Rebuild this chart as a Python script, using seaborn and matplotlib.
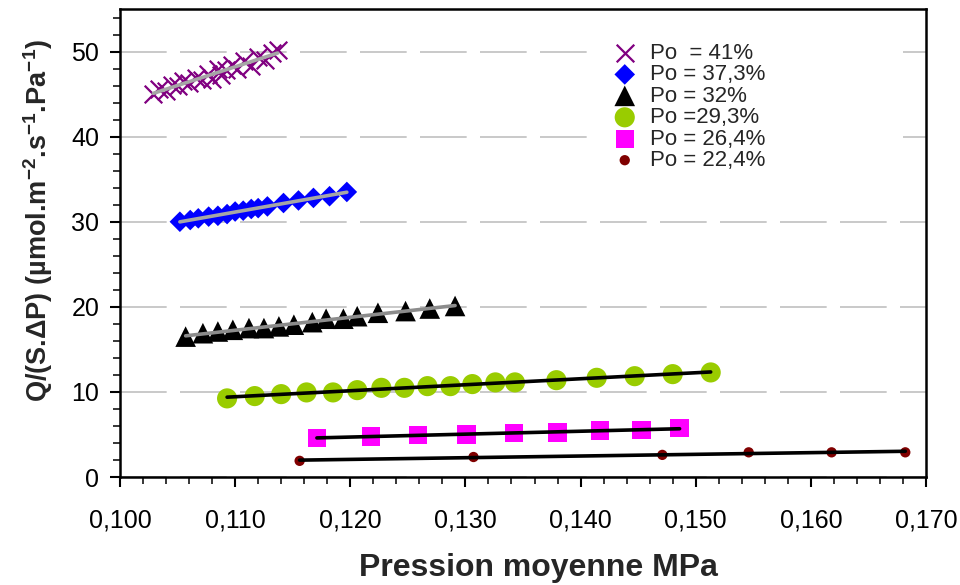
import numpy as np
import seaborn as sns
import matplotlib.pyplot as plt
import matplotlib.patches as mpatches
from matplotlib.ticker import MultipleLocator

# Po = 41 %
x_41 = [0.1029, 0.1034, 0.1040, 0.1045, 0.1050, 0.1055, 0.1060, 0.1066, 0.1071, 0.1076, 0.1080,
        0.1085, 0.1088, 0.1092, 0.1097, 0.1102, 0.1108, 0.1114, 0.1120, 0.1126, 0.1132, 0.1137]
y_41 = [45.0, 45.6, 45.4, 46.1, 45.9, 46.5, 46.3, 46.9, 46.6, 47.4, 46.8,
        47.9, 47.2, 47.8, 48.4, 47.9, 48.9, 48.3, 49.4, 49.0, 49.8, 50.2]
# Po = 37,3 %
x_373 = [0.1052, 0.1061, 0.1068, 0.1077, 0.1085, 0.1093, 0.1100, 0.1107,
         0.1114, 0.1120, 0.1128, 0.1142, 0.1155, 0.1168, 0.1182, 0.1197]
y_373 = [30.0, 30.2, 30.4, 30.6, 30.7, 30.9, 31.2, 31.3,
         31.5, 31.6, 31.8, 32.2, 32.5, 32.8, 33.0, 33.5]
# Po = 32 %
x_32 = [0.1057, 0.1072, 0.1085, 0.1098, 0.1112, 0.1125, 0.1138, 0.1151,
        0.1167, 0.1179, 0.1194, 0.1206, 0.1224, 0.1248, 0.1269, 0.1291]
y_32 = [16.5, 16.9, 17.1, 17.3, 17.5, 17.5, 17.7, 17.9,
        18.2, 18.6, 18.6, 18.9, 19.3, 19.5, 19.8, 20.1]
# Po = 29,3 %
x_293 = [0.1093, 0.1117, 0.1140, 0.1162, 0.1185, 0.1206, 0.1227, 0.1247, 0.1267,
         0.1287, 0.1306, 0.1326, 0.1343, 0.1379, 0.1414, 0.1447, 0.1480, 0.1513]
y_293 = [9.24, 9.51, 9.74, 9.94, 9.94, 10.21, 10.48, 10.48, 10.68,
         10.68, 10.92, 11.12, 11.12, 11.38, 11.66, 11.85, 12.09, 12.29]
# Po = 26,4 %
x_264 = [0.1171, 0.1218, 0.1259, 0.1301, 0.1342, 0.1380, 0.1417, 0.1453, 0.1486]
y_264 = [4.6, 4.75, 4.95, 5.0, 5.2, 5.25, 5.45, 5.5, 5.75]
# Po = 22,4 %
x_224 = [0.1156, 0.1307, 0.1471, 0.1546, 0.1618, 0.1682]
y_224 = [1.9, 2.35, 2.6, 2.9, 2.9, 2.9]

labels = ['Po  = 41%', 'Po = 37,3%', 'Po = 32%', 'Po =29,3%', 'Po = 26,4%', 'Po = 22,4%']

x_ticks = [0.100, 0.110, 0.120, 0.130, 0.140, 0.150, 0.160, 0.170]
x_tick_labels = ['0,100', '0,110', '0,120', '0,130', '0,140', '0,150', '0,160', '0,170']
y_ticks = [0, 10, 20, 30, 40, 50]

sns.set_style('white')
plt.rcParams['font.family'] = ['Liberation Sans', 'DejaVu Sans']
plt.rcParams['mathtext.fontset'] = 'custom'
plt.rcParams['mathtext.rm'] = 'Liberation Sans'
plt.rcParams['mathtext.bf'] = 'Liberation Sans:bold'

fig, ax = plt.subplots(figsize=(9.6, 5.85), dpi=100)
fig.subplots_adjust(left=0.125, right=0.9646, top=0.9846, bottom=0.1846)

series = [
    (x_41, y_41, 'x', '#800080', 160, '#a6a6a6'),
    (x_373, y_373, 'D', '#0000ff', 110, '#a6a6a6'),
    (x_32, y_32, '^', '#000000', 220, '#8c8c8c'),
    (x_293, y_293, 'o', '#99cc00', 210, '#000000'),
    (x_264, y_264, 's', '#ff00ff', 175, '#000000'),
    (x_224, y_224, 'o', '#800000', 55, '#000000'),
]

handles = []
for (xs, ys, mk, col, sz, lcol), lab in zip(series, labels):
    if mk == 'x':
        sns.scatterplot(x=xs, y=ys, marker=mk, color=col, s=sz, linewidth=1.6,
                        ax=ax, zorder=3)
    else:
        sns.scatterplot(x=xs, y=ys, marker=mk, color=col, s=sz, edgecolor='none',
                        ax=ax, zorder=3)
    handles.append(ax.collections[-1])
    # trend line
    sns.regplot(x=np.array(xs), y=np.array(ys), scatter=False, ci=None, truncate=True,
                color=lcol, line_kws={'lw': 2.6, 'zorder': 4}, ax=ax)

ax.set_xlim(0.100, 0.170)
ax.set_ylim(0, 55)
ax.set_xticks(x_ticks, x_tick_labels)
ax.set_yticks(y_ticks)
ax.xaxis.set_minor_locator(MultipleLocator(0.002))
ax.yaxis.set_minor_locator(MultipleLocator(2))
ax.tick_params(axis='both', which='major', direction='out', length=7, width=1.5,
               labelsize=18, colors='black')
ax.tick_params(axis='x', which='major', pad=16)
ax.tick_params(axis='y', which='major', pad=8)
ax.tick_params(axis='both', which='minor', direction='out', length=5, width=1.3)
ax.tick_params(axis='x', which='both', bottom=True)
ax.tick_params(axis='y', which='both', left=True)

for sp in ax.spines.values():
    sp.set_color('black')
    sp.set_linewidth(1.8)

    # Add Grid
ax.grid(axis='y', color='#c0c0c0', linestyle=(0, (28, 8)), linewidth=1.2, zorder=0)
ax.set_axisbelow(True)

ax.set_xlabel('Pression moyenne MPa', fontsize=23, fontweight='bold')
ax.xaxis.set_label_coords(0.519, -0.162)
ax.set_ylabel(r'Q/(S.ΔP) (µmol.m$^{\mathbf{-2}}$.s$^{\mathbf{-1}}$.Pa$^{\mathbf{-1}}$)',
              fontsize=19.5, fontweight='bold')
ax.yaxis.set_label_coords(-0.081, 0.549)

# white legend area (covers the grid like the original box)
ax.add_patch(mpatches.Rectangle((0.590, 0.642), 0.382, 0.29, transform=ax.transAxes,
                                facecolor='white', edgecolor='none', zorder=2))

leg = ax.legend(handles, labels, loc='upper left', bbox_to_anchor=(0.589, 0.961),
                fontsize=16, frameon=False, labelspacing=0.02,
                handletextpad=0.5, borderpad=0.2, handlelength=1.3)
leg.set_zorder(5)

fig.savefig('out.png', dpi=100)
